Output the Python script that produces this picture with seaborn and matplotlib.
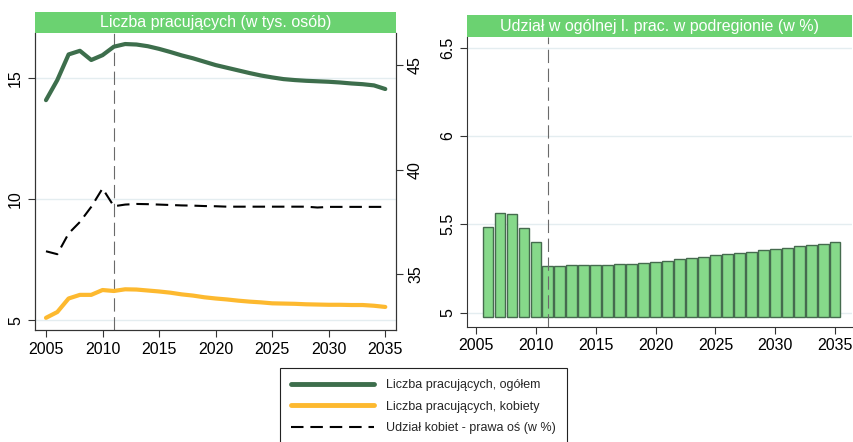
import pandas as pd
import seaborn as sns
import matplotlib.pyplot as plt
from matplotlib.patches import Rectangle
from matplotlib.lines import Line2D

# data
years = list(range(2005, 2036))
total = [14.10, 14.93, 15.99, 16.14, 15.76, 15.96, 16.31, 16.42, 16.40, 16.33,
         16.22, 16.09, 15.95, 15.83, 15.69, 15.55, 15.44, 15.33, 15.22, 15.12,
         15.04, 14.97, 14.93, 14.90, 14.88, 14.86, 14.83, 14.79, 14.76, 14.71, 14.56]
women = [5.10, 5.34, 5.90, 6.05, 6.05, 6.25, 6.21, 6.28, 6.27, 6.23,
         6.19, 6.14, 6.07, 6.02, 5.95, 5.90, 5.86, 5.81, 5.77, 5.74,
         5.70, 5.69, 5.68, 5.66, 5.65, 5.64, 5.64, 5.63, 5.63, 5.60, 5.55]
share_women = [36.11, 35.97, 36.96, 37.51, 38.23, 39.11, 38.26, 38.34, 38.37, 38.36,
               38.34, 38.32, 38.30, 38.29, 38.27, 38.26, 38.24, 38.24, 38.24, 38.24,
               38.24, 38.24, 38.24, 38.24, 38.20, 38.23, 38.23, 38.23, 38.23, 38.23, 38.23]
bar_years = list(range(2006, 2036))
share_subregion = [5.486, 5.562, 5.557, 5.481, 5.402, 5.264, 5.264, 5.268, 5.268, 5.268,
                   5.268, 5.272, 5.277, 5.283, 5.287, 5.294, 5.302, 5.308, 5.315, 5.323,
                   5.330, 5.338, 5.345, 5.353, 5.359, 5.366, 5.374, 5.385, 5.389, 5.400]

left_title = "Liczba pracujących (w tys. osób)"
right_title = "Udział w ogólnej l. prac. w podregionie (w %)"
labels = ["Liczba pracujących, ogółem", "Liczba pracujących, kobiety",
          "Udział kobiet - prawa oś (w %)"]
forecast_start = 2011
bar_base = 4.977

GREEN = "#3d6e4c"
YELLOW = "#fdb92f"
BAND = "#6bd271"
BAR_FILL = "#86d98a"
BAR_EDGE = "#456b4e"
GRID = "#e4edf0"
SPINE = "#333333"
VLINE = "#6a6a6a"

sns.set_style("ticks")
plt.rcParams["font.family"] = ["Liberation Sans", "DejaVu Sans"]
plt.rcParams["axes.edgecolor"] = SPINE
plt.rcParams["xtick.color"] = SPINE
plt.rcParams["ytick.color"] = SPINE
plt.rcParams["xtick.labelcolor"] = "black"
plt.rcParams["ytick.labelcolor"] = "black"

fig = plt.figure(figsize=(8.54, 4.42), dpi=100)
ax1 = fig.add_axes([0.041, 0.253, 0.423, 0.672])
ax3 = fig.add_axes([0.5465, 0.261, 0.451, 0.655])


def title_band(ax, text, h):
    ax.add_patch(Rectangle((0, 1), 1, h, transform=ax.transAxes, facecolor=BAND,
                           edgecolor="none", clip_on=False, zorder=5))
    ax.text(0.5, 1 + h / 2, text, transform=ax.transAxes, ha="center", va="center",
            color="white", fontsize=11.5, zorder=6)


lines_df = pd.DataFrame({"year": years, "total": total, "women": women, "share": share_women})

# left panel
ax1.yaxis.grid(True, color=GRID, lw=1)
sns.lineplot(data=lines_df, x="year", y="total", ax=ax1, color=GREEN, lw=3)
sns.lineplot(data=lines_df, x="year", y="women", ax=ax1, color=YELLOW, lw=3)
ax1.axvline(forecast_start, color=VLINE, lw=0.8, linestyle=(0, (12, 5)), zorder=1)
ax1.set_xlim(2004.03, 2035.97)
ax1.set_ylim(4.59, 16.87)
ax1.set_xticks(range(2005, 2036, 5))
ax1.set_yticks([5, 10, 15])
ax1.set_xlabel("")
ax1.set_ylabel("")
ax1.spines["top"].set_visible(False)
ax1.tick_params(axis="y", labelrotation=90, labelsize=11.5, length=5, width=0.8)
ax1.tick_params(axis="x", labelsize=11.5, length=5, width=0.8)
for t in ax1.get_yticklabels():
    t.set_va("center")

ax2 = ax1.twinx()
sns.lineplot(data=lines_df, x="year", y="share", ax=ax2, color="black", lw=1.5,
             linestyle=(0, (6, 3.3)))
ax2.set_ylim(32.34, 46.53)
ax2.set_yticks([35, 40, 45])
ax2.set_ylabel("")
ax2.grid(False)
ax2.spines["top"].set_visible(False)
ax2.tick_params(axis="y", labelrotation=90, labelsize=11.5, length=5, width=0.8)
for t in ax2.get_yticklabels():
    t.set_va("center")
title_band(ax1, left_title, 0.0707)

# right panel
bars_df = pd.DataFrame({"year": bar_years,
                        "height": [v - bar_base for v in share_subregion]})
ax3.yaxis.grid(True, color=GRID, lw=1)
ax3.set_axisbelow(True)
sns.barplot(data=bars_df, x="year", y="height", ax=ax3, native_scale=True,
            color=BAR_FILL, saturation=1, edgecolor=BAR_EDGE, linewidth=1,
            width=0.9, errorbar=None, bottom=bar_base)
ax3.axvline(forecast_start, color=VLINE, lw=0.8, linestyle=(0, (12, 5)), zorder=3)
ax3.set_xlim(2004.22, 2036.4)
ax3.set_ylim(4.92, 6.56)
ax3.set_xticks(range(2005, 2036, 5))
ax3.set_xticklabels([str(y) for y in range(2005, 2036, 5)])
ax3.set_yticks([5, 5.5, 6, 6.5])
ax3.set_yticklabels(["5", "5.5", "6", "6.5"])
ax3.set_xlabel("")
ax3.set_ylabel("")
ax3.spines["top"].set_visible(False)
ax3.spines["right"].set_visible(False)
ax3.tick_params(axis="y", labelrotation=90, labelsize=11.5, length=5, width=0.8)
ax3.tick_params(axis="x", labelsize=11.5, length=5, width=0.8)
for t in ax3.get_yticklabels():
    t.set_va("center")
title_band(ax3, right_title, 0.075)

# legend below the panels
handles = [Line2D([], [], color=GREEN, lw=3.5),
           Line2D([], [], color=YELLOW, lw=3.5),
           Line2D([], [], color="black", lw=1.5, linestyle=(0, (6, 3.3)))]
leg = fig.legend(handles, labels, loc="upper left", bbox_to_anchor=(280 / 854, 1 - 368 / 442),
                 frameon=True, fancybox=False, edgecolor="#222222", framealpha=1,
                 fontsize=9, handlelength=6.6, handletextpad=1.0, labelspacing=0.75,
                 borderpad=0.9, borderaxespad=0)
leg.get_frame().set_linewidth(0.8)

fig.savefig("out.png", dpi=100)
